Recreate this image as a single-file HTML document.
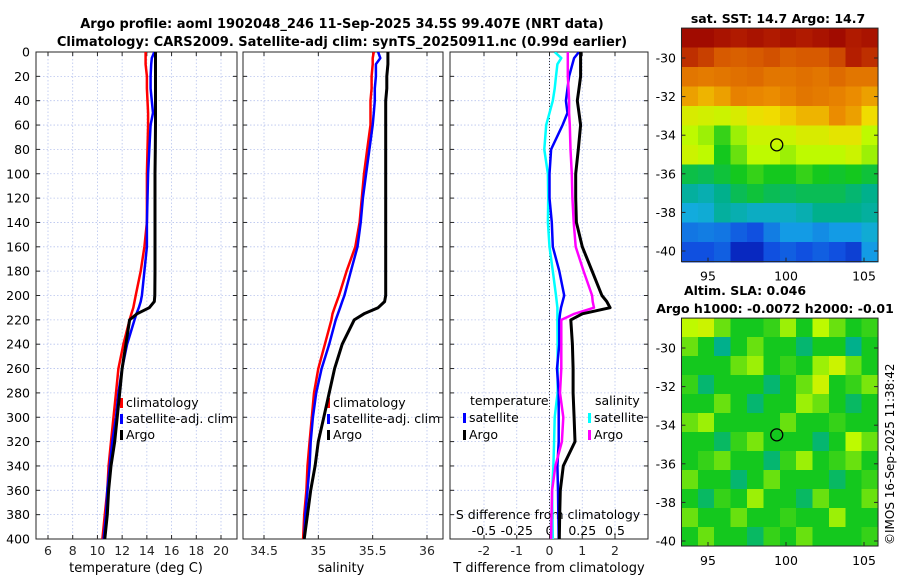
<!DOCTYPE html>
<html><head><meta charset="utf-8">
<style>
body{margin:0;background:#fff;}
svg{display:block;font-family:"DejaVu Sans","Liberation Sans",sans-serif;}
</style></head>
<body>
<svg id="fig" width="900" height="580" viewBox="0 0 900 580" xmlns="http://www.w3.org/2000/svg">
<text x="342" y="28" text-anchor="middle" font-size="13" font-weight="bold">Argo profile: aoml 1902048_246 11-Sep-2025 34.5S 99.407E (NRT data)</text>
<text x="342" y="46" text-anchor="middle" font-size="13" font-weight="bold">Climatology: CARS2009. Satellite-adj clim: synTS_20250911.nc (0.99d earlier)</text>
<text x="778" y="23" text-anchor="middle" font-size="12.5" font-weight="bold">sat. SST: 14.7 Argo: 14.7</text>
<text x="745" y="295" text-anchor="middle" font-size="12.5" font-weight="bold">Altim. SLA: 0.046</text>
<text x="775" y="313" text-anchor="middle" font-size="12.5" font-weight="bold">Argo h1000: -0.0072 h2000: -0.01</text>
<text transform="translate(894,545) rotate(-90)" font-size="12">©IMOS 16-Sep-2025 11:38:42</text>
<g id="g"></g>
</svg>
<script>
// ---------- data ----------
const depths = [0,5,10,20,30,40,50,60,80,100,120,140,160,180,200,205,210,215,220,240,260,280,300,320,340,360,380,400];
const tempArgo = [14.7,14.7,14.7,14.7,14.7,14.7,14.7,14.7,14.68,14.66,14.66,14.66,14.66,14.66,14.64,14.6,14.2,13.2,12.6,12.3,12.0,11.8,11.6,11.4,11.1,10.9,10.8,10.6];
const tempClim = [13.9,13.9,13.9,14.0,14.0,14.05,14.1,14.1,14.05,14.0,14.0,14.0,13.8,13.5,13.1,13.0,12.9,12.75,12.6,12.1,11.7,11.5,11.3,11.1,10.9,10.8,10.6,10.4];
const tempSat = [14.6,14.4,14.35,14.3,14.3,14.4,14.5,14.3,14.2,14.1,14.05,14.0,14.0,13.8,13.6,13.5,13.35,13.15,13.0,12.4,12.0,11.7,11.5,11.2,11.0,10.8,10.7,10.5];
const salArgo = [35.64,35.64,35.64,35.63,35.63,35.62,35.62,35.62,35.62,35.62,35.62,35.62,35.62,35.62,35.62,35.61,35.55,35.42,35.33,35.22,35.15,35.1,35.05,35.0,34.97,34.93,34.9,34.87];
const salClim = [35.51,35.50,35.50,35.49,35.49,35.48,35.48,35.48,35.45,35.42,35.40,35.38,35.34,35.26,35.19,35.17,35.15,35.13,35.12,35.06,35.0,34.96,34.94,34.92,34.9,34.89,34.87,34.86];
const salSat = [35.55,35.57,35.53,35.53,35.52,35.52,35.51,35.50,35.47,35.44,35.41,35.39,35.36,35.30,35.24,35.22,35.20,35.18,35.16,35.10,35.03,34.98,34.95,34.93,34.92,34.9,34.88,34.87];
const tDiffArgo = [0.95,0.95,0.95,0.95,0.9,0.85,0.9,0.95,0.88,0.8,0.8,0.82,1.0,1.3,1.6,1.75,1.85,1.0,0.65,0.7,0.72,0.72,0.75,0.78,0.42,0.33,0.31,0.3];
const tDiffSat = [0.9,0.75,0.7,0.6,0.55,0.5,0.55,0.4,0.05,0.0,0.0,0.07,0.1,0.3,0.45,0.4,0.35,0.32,0.3,0.3,0.23,0.28,0.28,0.28,0.24,0.26,0.27,0.28];
const sDiffArgo = [0.14,0.14,0.14,0.14,0.145,0.15,0.15,0.155,0.16,0.17,0.175,0.185,0.2,0.26,0.325,0.33,0.34,0.19,0.09,0.09,0.09,0.08,0.105,0.095,0.045,0.02,0.015,0.012];
const sDiffSat = [0.04,0.09,0.06,0.05,0.04,0.025,0,-0.025,-0.04,-0.012,-0.01,-0.012,0,0.025,0.05,0.055,0.06,0.06,0.06,0.062,0.062,0.062,0.04,0.035,0.03,0.02,0.022,0.025];
const tempTicks = [6,8,10,12,14,16,18,20];
const salTicks = [34.5,35,35.5,36];
const tdTicks = [-2,-1,0,1,2];
const sdTicks = [-0.5,-0.25,0,0.25,0.5];
const sdTickLabels = ['-0.5','-0.25','0','0.25','0.5'];
const depthTicks = [0,20,40,60,80,100,120,140,160,180,200,220,240,260,280,300,320,340,360,380,400];
const latTicks = [-30,-32,-34,-36,-38,-40];
const lonTicks = [95,100,105];
const argoLon = 99.407, argoLat = -34.5;
const sstGrid = [
[0.97,0.97,0.95,0.93,0.95,0.93,0.95,0.93,0.95,0.97,0.93,0.95],
[0.9,0.88,0.85,0.84,0.85,0.86,0.84,0.85,0.85,0.87,0.92,0.9],
[0.8,0.79,0.8,0.81,0.82,0.8,0.8,0.81,0.8,0.82,0.8,0.8],
[0.74,0.72,0.74,0.78,0.77,0.76,0.78,0.8,0.79,0.78,0.76,0.74],
[0.64,0.63,0.62,0.64,0.67,0.68,0.7,0.72,0.72,0.76,0.74,0.68],
[0.6,0.58,0.52,0.58,0.62,0.62,0.62,0.64,0.64,0.66,0.66,0.6],
[0.62,0.6,0.5,0.55,0.6,0.6,0.58,0.6,0.6,0.6,0.62,0.58],
[0.47,0.46,0.48,0.5,0.52,0.5,0.5,0.52,0.5,0.49,0.5,0.48],
[0.4,0.38,0.42,0.46,0.48,0.46,0.45,0.46,0.46,0.46,0.44,0.42],
[0.33,0.34,0.4,0.38,0.36,0.36,0.36,0.38,0.42,0.42,0.42,0.4],
[0.25,0.26,0.25,0.22,0.2,0.26,0.3,0.3,0.28,0.3,0.3,0.34],
[0.2,0.2,0.22,0.15,0.15,0.2,0.22,0.2,0.22,0.2,0.18,0.3]];
const slaGrid = [
[0.6,0.62,0.55,0.5,0.5,0.52,0.58,0.5,0.6,0.55,0.5,0.52],
[0.55,0.5,0.42,0.5,0.55,0.5,0.5,0.44,0.5,0.5,0.42,0.5],
[0.5,0.5,0.5,0.55,0.58,0.5,0.52,0.5,0.58,0.62,0.55,0.5],
[0.52,0.44,0.5,0.5,0.5,0.44,0.5,0.55,0.62,0.5,0.52,0.56],
[0.5,0.5,0.55,0.5,0.44,0.5,0.5,0.58,0.55,0.5,0.45,0.5],
[0.55,0.58,0.5,0.5,0.5,0.5,0.55,0.5,0.5,0.52,0.5,0.5],
[0.5,0.5,0.45,0.52,0.56,0.5,0.5,0.5,0.44,0.5,0.6,0.55],
[0.5,0.52,0.55,0.5,0.5,0.44,0.52,0.58,0.5,0.52,0.55,0.5],
[0.55,0.5,0.5,0.44,0.5,0.55,0.5,0.5,0.5,0.45,0.5,0.52],
[0.5,0.45,0.52,0.5,0.58,0.5,0.5,0.45,0.55,0.5,0.5,0.55],
[0.55,0.5,0.5,0.55,0.5,0.5,0.52,0.5,0.5,0.58,0.5,0.5],
[0.5,0.55,0.5,0.5,0.45,0.52,0.5,0.55,0.5,0.5,0.5,0.52]];

// ---------- helpers ----------
const NS='http://www.w3.org/2000/svg';
const G=document.getElementById('g');
function el(tag,attrs,parent){const e=document.createElementNS(NS,tag);for(const k in attrs)e.setAttribute(k,attrs[k]);(parent||G).appendChild(e);return e;}
function txt(s,x,y,anchor,size,parent){const t=el('text',{x:x,y:y,'text-anchor':anchor,'font-size':size},parent);t.textContent=s;return t;}
const Y0=52,Y1=539;
function yD(d){return Y0+(d/400)*(Y1-Y0);}
function lin(d0,d1,p0,p1){return v=>p0+(v-d0)/(d1-d0)*(p1-p0);}
const panels=[
 {x0:36,x1:237,sx:lin(6,20,48,221),name:'temperature-panel'},
 {x0:243,x1:443,sx:lin(34.5,36,264,427),name:'salinity-panel'},
 {x0:450,x1:648,sx:lin(-2,2,484,615),name:'difference-panel'}];
const sxS=lin(-0.5,0.5,484,615);

function panelFrame(p,xticks){
  const g=el('g',{});
  
  
  depthTicks.forEach(d=>{el('line',{x1:p.x0,x2:p.x1,y1:yD(d),y2:yD(d),stroke:'#b8c4ee','stroke-width':0.8,'stroke-dasharray':'1.5,2'},g);});
  xticks.forEach(v=>{el('line',{x1:p.sx(v),x2:p.sx(v),y1:Y0,y2:Y1,stroke:'#b8c4ee','stroke-width':0.8,'stroke-dasharray':'1.5,2'},g);});
  return g;
}
function frameBorder(p,g,xticks,xlabels){
  el('rect',{x:p.x0,y:Y0,width:p.x1-p.x0,height:Y1-Y0,fill:'none',stroke:'#262626','stroke-width':1},g);
  depthTicks.forEach(d=>{
    el('line',{x1:p.x0,x2:p.x0+4,y1:yD(d),y2:yD(d),stroke:'#262626'},g);
    el('line',{x1:p.x1-4,x2:p.x1,y1:yD(d),y2:yD(d),stroke:'#262626'},g);});
  xticks.forEach((v,i)=>{
    el('line',{x1:p.sx(v),x2:p.sx(v),y1:Y1,y2:Y1-4,stroke:'#262626'},g);
    el('line',{x1:p.sx(v),x2:p.sx(v),y1:Y0,y2:Y0+4,stroke:'#262626'},g);
    const t=txt(xlabels[i],p.sx(v),555,'middle',12.5,g);
    t.setAttribute('fill','#262626');
  });
}
function profile(p,vals,color,width,name,sx){
  const f=sx||p.sx;
  const pts=vals.map((v,i)=>f(v).toFixed(1)+','+yD(depths[i]).toFixed(1)).join(' ');
  const l=el('polyline',{points:pts,fill:'none',stroke:color,'stroke-width':width,'stroke-linejoin':'round','clip-path':'url(#clip-'+p.name+')'});
  
  
}
function legendEntry(x,y,color,label,g){
  el('rect',{x:x,y:y-9,width:3,height:10,fill:color},g);
  txt(label,x+6,y,'start',12.5,g);
}
const defs=el('defs',{});
panels.forEach(p=>{const c=el('clipPath',{id:'clip-'+p.name},defs);el('rect',{x:p.x0,y:Y0,width:p.x1-p.x0,height:Y1-Y0},c);});

// panel 1
let p=panels[0];
let g=panelFrame(p,tempTicks);
profile(p,tempClim,'#ff0000',2.5,'climatology-temperature-line');
profile(p,tempSat,'#0000ff',2.5,'satellite-temperature-line');
profile(p,tempArgo,'#000000',3,'argo-temperature-line');
frameBorder(p,g,tempTicks,tempTicks.map(String));
depthTicks.forEach(d=>{txt(String(d),30,yD(d)+4.5,'end',12.5,g);});
txt('temperature (deg C)',136,572,'middle',13,g);
let lg=el('g',{'clip-path':'url(#clip-temperature-panel)'},g);


legendEntry(120,407,'#ff0000','climatology',lg);
legendEntry(120,423,'#0000ff','satellite-adj. clim',lg);
legendEntry(120,439,'#000000','Argo',lg);

// panel 2
p=panels[1];
g=panelFrame(p,salTicks);
profile(p,salClim,'#ff0000',2.5,'climatology-salinity-line');
profile(p,salSat,'#0000ff',2.5,'satellite-salinity-line');
profile(p,salArgo,'#000000',3,'argo-salinity-line');
frameBorder(p,g,salTicks,salTicks.map(String));
txt('salinity',341,572,'middle',13,g);
lg=el('g',{'clip-path':'url(#clip-salinity-panel)'},g);


legendEntry(327,407,'#ff0000','climatology',lg);
legendEntry(327,423,'#0000ff','satellite-adj. clim',lg);
legendEntry(327,439,'#000000','Argo',lg);

// panel 3
p=panels[2];
g=panelFrame(p,tdTicks);
el('line',{x1:p.sx(0),x2:p.sx(0),y1:Y0,y2:Y1,stroke:'#333','stroke-width':1,'stroke-dasharray':'1,2'},g);
profile(p,sDiffSat,'#00ffff',2.5,'satellite-salinity-difference-line',sxS);
profile(p,tDiffSat,'#0000ff',2.5,'satellite-temperature-difference-line');
profile(p,sDiffArgo,'#ff00ff',2.5,'argo-salinity-difference-line',sxS);
profile(p,tDiffArgo,'#000000',3,'argo-temperature-difference-line');
frameBorder(p,g,tdTicks,tdTicks.map(String));
txt('T difference from climatology',549,572,'middle',13,g);
txt('S difference from climatology',548,519,'middle',12.5,g);
sdTicks.forEach((v,i)=>{txt(sdTickLabels[i],sxS(v),535,'middle',12.5,g);});
lg=el('g',{},g);


txt('temperature',470,405,'start',12.5,lg);
legendEntry(463,422,'#0000ff','satellite',lg);
legendEntry(463,439,'#000000','Argo',lg);
txt('salinity',595,405,'start',12.5,lg);
legendEntry(588,422,'#00ffff','satellite',lg);
legendEntry(588,439,'#ff00ff','Argo',lg);

// ---------- maps ----------
const cstops=[[0.1,[0,0,160]],[0.2,[16,80,224]],[0.32,[20,170,230]],[0.42,[0,176,140]],[0.5,[20,200,30]],[0.6,[190,250,0]],[0.68,[240,220,0]],[0.76,[235,140,0]],[0.85,[215,90,0]],[0.92,[180,30,0]],[1.0,[150,0,0]]];
function cmap(v){
  if(v<=cstops[0][0])return 'rgb('+cstops[0][1]+')';
  for(let i=1;i<cstops.length;i++){if(v<=cstops[i][0]){const a=cstops[i-1],b=cstops[i];const t=(v-a[0])/(b[0]-a[0]);
    return 'rgb('+a[1].map((c,k)=>Math.round(c+(b[1][k]-c)*t)).join(',')+')';}}
  return 'rgb(150,0,0)';
}
function drawMap(m,grid,name){
  const g=el('g',{});
  
  
  const lonX=lin(95,105,708,864), latY=lin(-30,-40,m.yA,m.yB);
  const nr=grid.length,nc=grid[0].length;
  const lon0=93.3,lon1=105.9,lat0=m.latTop,lat1=m.latBot;
  grid.forEach((row,r)=>row.forEach((v,c)=>{
    const xa=lonX(lon0+(lon1-lon0)*c/nc), xb=lonX(lon0+(lon1-lon0)*(c+1)/nc);
    const ya=latY(lat0+(lat1-lat0)*r/nr), yb=latY(lat0+(lat1-lat0)*(r+1)/nr);
    const cell=el('rect',{x:xa.toFixed(1),y:ya.toFixed(1),width:(xb-xa+0.6).toFixed(1),height:(yb-ya+0.6).toFixed(1),fill:cmap(v),'shape-rendering':'crispEdges'},g);
    
    
  }));
  const x0=lonX(lon0),x1=lonX(lon1),y0=latY(lat0),y1=latY(lat1);
  el('rect',{x:x0,y:y0,width:x1-x0,height:y1-y0,fill:'none',stroke:'#262626'},g);
  latTicks.forEach(l=>{el('line',{x1:x1,x2:x1-4,y1:latY(l),y2:latY(l),stroke:'#262626'},g);
    el('line',{x1:x0,x2:x0+4,y1:latY(l),y2:latY(l),stroke:'#262626'},g);
    txt(String(l),676,latY(l)+4.5,'end',12.5,g);});
  lonTicks.forEach(l=>{el('line',{x1:lonX(l),x2:lonX(l),y1:y1,y2:y1-4,stroke:'#262626'},g);
    txt(String(l),lonX(l),y1+19,'middle',12.5,g);});
  const c=el('circle',{cx:lonX(argoLon),cy:latY(argoLat),r:6,fill:'none',stroke:'#000','stroke-width':1.3},g);
  
  
}
drawMap({yA:58,yB:251,latTop:-28.45,latBot:-40.55},sstGrid,'sst-map');
drawMap({yA:348,yB:541,latTop:-28.45,latBot:-40.26},slaGrid,'sla-map');
</script>
</body></html>
